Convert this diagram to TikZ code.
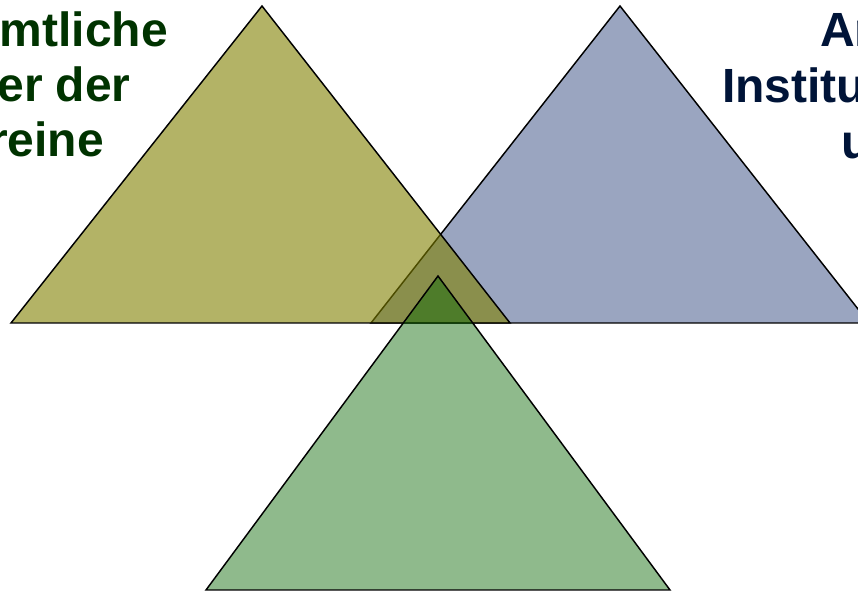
\documentclass[tikz,border=0pt]{standalone}
\usepackage{fontspec}
\setmainfont{Liberation Sans}
\usetikzlibrary{positioning}
\definecolor{triOlive}{RGB}{128,128,0}
\definecolor{triBlue}{RGB}{87,105,150}
\definecolor{triGreen}{RGB}{7,102,0}
\definecolor{txtGreen}{HTML}{003300}
\definecolor{txtBlue}{HTML}{001438}

\begin{document}
\begin{tikzpicture}[
  x=0.75pt, y=-0.75pt,
  every node/.style={font=\bfseries\fontsize{36}{42}\selectfont, inner sep=0pt},
  tri/.style={draw=black, line width=1.1pt, line join=miter},
  olivetri/.style={tri, fill=triOlive, fill opacity=0.6},
  bluetri/.style={tri, fill=triBlue, fill opacity=0.6},
  greentri/.style={tri, fill=triGreen, fill opacity=0.45},
  lefttxt/.style={text=txtGreen, anchor=base east},
  righttxt/.style={text=txtBlue, anchor=base west}
]

\clip (0,0) rectangle (858,591);

% corners of the three triangles
\coordinate (bTop) at (620,6);
\coordinate (bLeft) at (371,323);
\coordinate (bRight) at (869,323);
\coordinate (oTop) at (262,6);
\coordinate (oLeft) at (11,323);
\coordinate (oRight) at (510,323);
\coordinate (gTop) at (438,276);
\coordinate (gLeft) at (206,590);
\coordinate (gRight) at (670,590);

\draw[bluetri] (bTop) -- (bLeft) -- (bRight) -- cycle;
\draw[olivetri] (oTop) -- (oLeft) -- (oRight) -- cycle;
\draw[greentri] (gTop) -- (gLeft) -- (gRight) -- cycle;

\node[lefttxt] (lineA) at (168,47) {mtliche};
\node[lefttxt] (lineB) at (131,102) {er der};
\node[lefttxt] (lineC) at (104,157) {reine};

\node[righttxt] (lineD) at (820,47) {Ar};
\node[righttxt] (lineE) at (722,103) {Institu};
\node[righttxt] (lineF) at (841,159) {u};

\end{tikzpicture}
\end{document}
